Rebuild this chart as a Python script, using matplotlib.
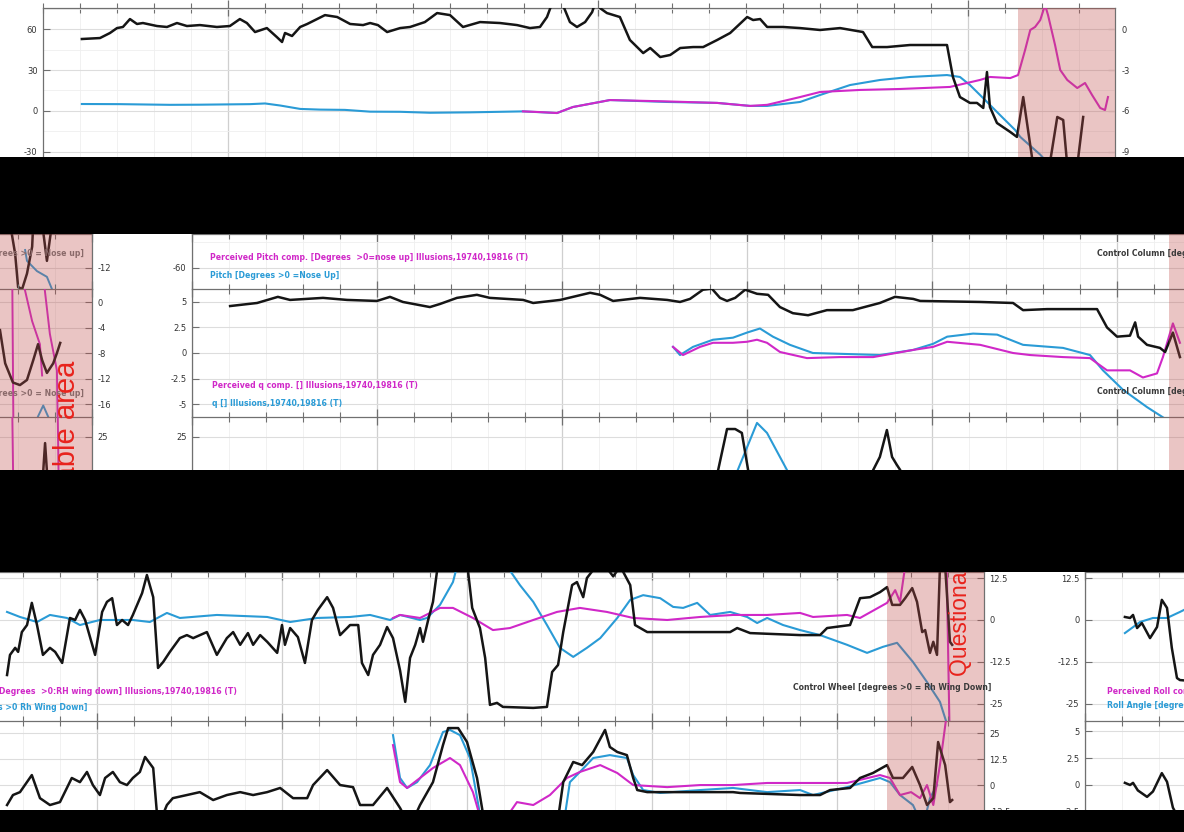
import numpy as np
import matplotlib.pyplot as plt
from matplotlib.patches import Rectangle
from matplotlib.ticker import MultipleLocator, FuncFormatter

W, H = 1184, 832
plt.rcParams['font.family'] = ['DejaVu Sans']

BLACK = '#151515'
BLUE = '#2a9bd6'
MAGENTA = '#d028c8'
GREY_TXT = '#3a3a3a'
SHADE = '#c0504d'
RED = '#e8231c'

# ---- top strip: heading / pitch overview (time in s, value in deg) ----
a_black = [(1.05, 52.7), (1.54, 53.4), (1.81, 57.1), (2.00, 60.7), (2.16, 61.5), (2.35, 67.3),
           (2.54, 63.7), (2.70, 64.4), (3.08, 62.2), (3.35, 61.5), (3.62, 64.4), (3.89, 62.2),
           (4.24, 62.9), (4.70, 61.5), (5.05, 62.2), (5.32, 67.3), (5.51, 64.4), (5.73, 57.8),
           (6.05, 60.7), (6.32, 54.1), (6.46, 50.5), (6.54, 57.1), (6.73, 54.9), (6.95, 61.5),
           (7.14, 63.7), (7.62, 70.2), (7.95, 68.8), (8.30, 63.7), (8.65, 62.9), (8.84, 64.4),
           (9.05, 62.9), (9.30, 57.8), (9.65, 60.7), (9.92, 61.5), (10.32, 65.1), (10.65, 71.7),
           (11.00, 70.2), (11.35, 61.5), (11.81, 65.1), (12.35, 64.4), (12.81, 62.9), (13.16, 60.7),
           (13.43, 61.5), (13.62, 68.8), (13.76, 79.0), (13.86, 90.0), (13.97, 85.0), (14.05, 77.6),
           (14.24, 65.1), (14.43, 61.5), (14.65, 65.1), (14.84, 72.4), (14.92, 79.0), (15.00, 82.0),
           (15.05, 75.4), (15.24, 71.7), (15.59, 68.8), (15.86, 52.0), (16.22, 42.4), (16.41, 46.1),
           (16.68, 39.5), (16.95, 41.0), (17.22, 46.1), (17.57, 46.8), (17.84, 46.8), (18.22, 52.0),
           (18.57, 57.1), (19.03, 68.8), (19.19, 66.6), (19.38, 67.3), (19.57, 61.5), (20.00, 61.5),
           (20.46, 60.7), (21.00, 59.3), (21.54, 60.7), (22.16, 57.8), (22.41, 46.8), (22.81, 46.8),
           (23.43, 48.3), (24.43, 48.3), (24.59, 24.9), (24.78, 10.2), (25.05, 5.9), (25.24, 5.9),
           (25.41, 2.2), (25.51, 28.5), (25.59, 2.9), (25.78, -8.8), (26.14, -15.4), (26.32, -19.0),
           (26.49, 10.2), (26.76, -40.0), (27.20, -40.0), (27.41, -4.4), (27.57, -6.6), (27.68, -40.0),
           (27.95, -40.0), (28.11, -4.4)]
a_blue = [(1.05, 5.1), (2.08, 5.0), (3.43, 4.5), (4.24, 4.6), (5.59, 5.0), (6.00, 5.5), (6.41, 4.0),
          (6.95, 1.5), (7.49, 1.0), (8.16, 0.8), (8.84, -0.5), (9.65, -0.6), (10.46, -1.3),
          (11.54, -1.0), (12.97, -0.3), (13.89, -1.5), (14.32, 2.9), (15.05, 6.6), (15.32, 8.0),
          (16.86, 6.6), (18.22, 5.9), (19.11, 3.7), (19.57, 3.7), (20.46, 6.6), (21.00, 11.7),
          (21.81, 19.0), (22.62, 22.7), (23.43, 24.9), (24.43, 26.3), (24.78, 24.9), (25.05, 19.0),
          (25.46, 8.0), (25.86, -2.9), (26.27, -13.9), (26.41, -19.0), (26.95, -32.0), (27.22, -40.0)]
a_magenta = [(12.97, -0.3), (13.43, -0.8), (13.89, -1.5), (14.32, 2.9), (15.05, 6.6), (15.32, 8.0),
             (16.86, 7.0), (18.22, 5.9), (19.11, 3.7), (19.57, 4.5), (20.46, 10.2), (21.00, 13.9),
             (22.08, 15.4), (23.16, 16.1), (24.51, 17.6), (25.32, 22.7), (25.59, 24.9), (26.14, 24.1),
             (26.35, 26.3), (26.54, 44.6), (26.68, 59.3), (26.81, 61.5), (26.95, 66.6), (27.08, 77.6),
             (27.16, 70.2), (27.35, 48.3), (27.49, 30.0), (27.68, 22.7), (27.95, 16.8), (28.16, 20.5),
             (28.35, 11.7), (28.57, 2.2), (28.70, 0.7), (28.78, 10.2)]

# ---- middle strip, left fragment (end of a control column panel) ----
b1_brown = [(-2.22, -5.0), (-2.08, -9.8), (-2.00, -15.0), (-1.89, -15.3), (-1.76, -12.9),
            (-1.62, -8.7), (-1.59, -5.0), (np.nan, np.nan), (-1.35, -5.0), (-1.22, -10.9), (-1.08, -5.0)]
b1_blue = [(-1.81, -9.2), (-1.76, -10.9), (-1.49, -12.5), (-1.22, -13.4), (-1.00, -16.5)]
b2_magenta = [(-2.16, 5.0), (-2.12, -25.0), (np.nan, np.nan),
              (-1.86, 3.0), (-1.62, -3.0), (-1.41, -6.6), (-1.35, -11.5), (np.nan, np.nan),
              (-1.30, 3.0), (-1.14, -5.0), (-0.95, -10.7), (-0.92, -22.0)]
b2_brown = [(-2.49, -4.4), (-2.35, -9.6), (-2.14, -12.6), (-1.95, -13.0), (-1.76, -12.2), (-1.59, -9.1),
            (-1.46, -6.6), (-1.35, -9.1), (-1.22, -11.1), (-1.05, -9.6), (-0.95, -8.0), (-0.86, -6.4)]
b2_blue = [(-1.46, -17.9), (-1.32, -16.2), (-1.19, -17.9)]
b3_magenta = [(-2.16, 40.0), (-2.13, 0.0), (np.nan, np.nan), (-0.93, 40.0), (-0.90, 0.0)]
b3_brown = [(-1.35, 0.0), (-1.27, 22.0), (-1.19, 0.0)]

# ---- middle strip, pitch / q panel ----
c2_black = [(1.03, 4.6), (1.76, 4.9), (2.32, 5.5), (2.65, 5.2), (3.54, 5.4), (4.19, 5.2), (5.00, 5.1),
            (5.35, 5.5), (5.70, 5.0), (6.43, 4.5), (6.70, 4.8), (7.16, 5.4), (7.70, 5.7), (8.05, 5.4),
            (8.95, 5.2), (9.22, 4.9), (9.95, 5.2), (10.76, 5.9), (11.03, 5.7), (11.38, 5.1), (12.11, 5.4),
            (12.84, 5.2), (13.19, 5.0), (13.46, 5.3), (13.81, 6.2), (14.05, 6.3), (14.27, 5.4), (14.46, 5.1),
            (14.68, 5.4), (14.95, 6.2), (15.27, 5.8), (15.57, 5.7), (15.89, 4.5), (16.24, 3.9), (16.65, 3.7),
            (17.16, 4.2), (17.86, 4.2), (18.59, 4.9), (19.00, 5.5), (19.49, 5.3), (19.68, 5.1), (21.30, 5.0),
            (22.19, 4.9), (22.46, 4.2), (23.11, 4.3), (24.46, 4.3), (24.73, 2.5), (25.00, 1.6), (25.35, 1.7),
            (25.49, 3.0), (25.57, 1.6), (25.81, 0.8), (26.16, 0.5), (26.30, 0.1), (26.51, 2.0), (26.70, -0.4)]
c2_blue = [(13.00, 0.6), (13.19, -0.2), (13.54, 0.6), (14.08, 1.3), (14.62, 1.5), (15.00, 2.0),
           (15.35, 2.4), (15.70, 1.6), (16.16, 0.8), (16.78, 0.0), (17.70, -0.1), (18.59, -0.2),
           (19.49, 0.3), (20.03, 0.9), (20.41, 1.6), (21.11, 1.9), (21.76, 1.8), (22.46, 0.8),
           (23.54, 0.5), (24.27, -0.2), (24.62, -1.7), (25.16, -3.6), (25.81, -5.3), (26.24, -6.3)]
c2_magenta = [(13.00, 0.6), (13.27, -0.2), (13.73, 0.6), (14.08, 1.0), (14.62, 1.0), (15.00, 1.1),
              (15.27, 1.3), (15.54, 1.0), (15.89, 0.1), (16.62, -0.5), (17.51, -0.4), (18.41, -0.4),
              (19.49, 0.3), (20.03, 0.6), (20.41, 1.1), (21.30, 0.8), (22.19, 0.0), (22.65, -0.2),
              (23.54, -0.4), (24.27, -0.5), (24.73, -1.7), (25.35, -1.7), (25.70, -2.4), (26.08, -2.0),
              (26.24, -0.4), (26.51, 2.9), (26.70, 1.0)]
c3_black = [(14.00, 0.0), (14.22, 8.8), (14.46, 28.9), (14.68, 28.9), (14.86, 27.0), (15.03, 8.8),
            (15.20, 0.0), (18.30, 0.0), (18.41, 8.8), (18.59, 15.2), (18.78, 28.4), (18.92, 15.2),
            (19.05, 11.3), (19.14, 8.8), (19.30, 0.0)]
c3_blue = [(14.60, 0.0), (14.75, 8.8), (15.27, 31.9), (15.54, 27.0), (16.08, 8.8), (16.30, 0.0)]

# ---- bottom strip: roll / control wheel panel ----
d1_black = [(2.57, -16.4), (2.65, -10.4), (2.79, -8.3), (2.87, -9.5), (2.97, -3.6), (3.11, -1.5),
            (3.24, 5.1), (3.38, -1.5), (3.54, -10.4), (3.73, -8.3), (3.87, -9.5), (4.06, -12.8),
            (4.27, 0.6), (4.41, 0.0), (4.54, 3.0), (4.68, 0.0), (4.95, -10.4), (5.14, 2.4), (5.27, 5.4),
            (5.41, 6.5), (5.54, -1.5), (5.68, 0.0), (5.84, -1.5), (5.97, 1.5), (6.22, 8.0), (6.35, 13.4),
            (6.52, 6.8), (6.65, -14.3), (6.79, -12.5), (6.97, -9.5), (7.24, -5.4), (7.43, -4.5),
            (7.60, -5.4), (7.97, -3.6), (8.24, -10.4), (8.51, -5.4), (8.68, -3.6), (8.87, -7.4),
            (9.08, -3.9), (9.22, -7.4), (9.41, -4.5), (9.60, -6.5), (9.87, -9.8), (10.00, -1.5),
            (10.08, -7.4), (10.22, -2.4), (10.43, -5.1), (10.62, -12.8), (10.81, 0.0), (10.97, 3.0),
            (11.22, 6.8), (11.38, 3.6), (11.57, -4.5), (11.84, -1.5), (12.06, -1.5), (12.16, -12.8),
            (12.33, -16.4), (12.46, -10.4), (12.65, -7.4), (12.84, -2.1), (13.00, -5.4), (13.19, -15.0),
            (13.33, -24.4), (13.46, -11.3), (13.60, -7.4), (13.73, -2.4), (13.81, -6.5), (13.95, 0.0),
            (14.08, 5.4), (14.19, 14.6), (14.27, 20.0), (14.95, 20.0), (15.03, 14.3), (15.14, 3.6),
            (15.35, -2.4), (15.49, -11.3), (15.62, -25.3), (15.81, -24.7), (15.97, -25.9), (16.79, -26.2),
            (17.16, -25.9), (17.30, -15.5), (17.46, -13.4), (17.60, -3.6), (17.84, 10.4), (17.97, 11.3),
            (18.14, 6.8), (18.24, 12.5), (18.38, 14.5), (18.60, 18.0), (18.95, 13.0), (19.14, 16.0),
            (19.41, 10.4), (19.54, -1.5), (19.87, -3.6), (20.41, -3.6), (22.11, -3.6), (22.30, -2.4),
            (22.65, -3.9), (24.00, -4.5), (24.54, -4.5), (24.73, -2.4), (25.35, -1.5), (25.62, 6.5),
            (25.89, 6.8), (26.16, 8.3), (26.35, 9.8), (26.49, 4.5), (26.70, 4.5), (26.84, 6.5),
            (27.03, 9.5), (27.16, 5.4), (27.30, -3.6), (27.38, -3.0), (27.51, -9.8), (27.60, -6.5),
            (27.70, -10.4), (27.78, 16.0), (27.92, 16.0), (28.05, -6.5), (28.11, -7.4)]
d1_blue = [(2.57, 2.4), (2.92, 0.9), (3.38, -0.6), (3.73, 1.5), (4.19, 0.6), (4.54, -1.5), (5.08, 0.0),
           (5.97, 0.0), (6.43, -0.6), (6.89, 2.1), (7.24, 0.6), (8.24, 1.5), (9.60, 0.9), (10.22, -0.6),
           (10.95, 0.6), (11.84, 0.9), (12.38, 1.5), (12.92, 0.0), (13.19, 1.5), (13.73, 0.0),
           (13.92, 0.6), (14.27, 4.5), (14.62, 11.3), (14.73, 16.0), (16.08, 16.0), (16.43, 10.4),
           (16.79, 5.4), (17.16, -1.5), (17.51, -8.3), (17.87, -11.0), (18.24, -8.3), (18.60, -5.4),
           (19.06, 0.6), (19.41, 6.0), (19.76, 7.4), (20.22, 6.5), (20.57, 3.9), (20.84, 3.6),
           (21.22, 5.1), (21.57, 1.5), (22.11, 2.4), (22.57, 0.9), (22.84, -0.9), (23.11, 0.6),
           (23.54, -1.5), (24.00, -3.0), (24.54, -4.5), (25.27, -7.4), (25.81, -9.8), (26.24, -8.0),
           (26.62, -6.8), (27.05, -12.5), (27.43, -18.5), (27.78, -24.4), (27.97, -31.0)]
d1_magenta = [(13.00, 0.6), (13.19, 1.5), (13.73, 0.6), (14.27, 3.6), (14.62, 3.6), (15.16, 0.6),
              (15.70, -3.0), (16.16, -2.4), (16.79, 0.0), (17.43, 2.4), (18.05, 3.6), (18.78, 2.4),
              (19.49, 0.6), (20.41, 0.0), (21.30, 0.9), (22.19, 1.5), (23.11, 1.5), (24.00, 2.1),
              (24.35, 0.9), (25.27, 1.5), (25.62, 0.6), (26.35, 5.1), (26.57, 8.9), (26.70, 5.4),
              (26.84, 16.0), (27.96, 16.0), (28.05, -40.0)]
d2_black = [(2.57, -9.6), (2.73, -4.8), (2.92, -3.4), (3.24, 4.8), (3.46, -6.3), (3.73, -9.6),
            (4.00, -8.2), (4.32, 3.4), (4.54, 1.4), (4.73, 6.3), (4.89, 0.0), (5.08, -4.8), (5.22, 3.4),
            (5.43, 6.3), (5.62, 1.4), (5.81, 0.0), (5.97, 3.4), (6.16, 6.3), (6.30, 13.5), (6.52, 8.2),
            (6.65, -20.0), (6.89, -9.6), (7.05, -6.3), (7.43, -4.8), (7.78, -3.4), (8.14, -7.2),
            (8.51, -4.8), (8.87, -3.4), (9.22, -4.8), (9.60, -3.4), (9.95, -1.4), (10.30, -6.3),
            (10.68, -6.3), (10.84, 0.0), (11.22, 7.2), (11.57, 0.0), (11.92, -1.0), (12.11, -9.6),
            (12.46, -9.6), (12.84, -1.4), (13.19, -11.0), (13.46, -20.0), (13.73, -9.6), (14.08, 1.4),
            (14.35, 19.2), (14.49, 27.4), (14.76, 27.4), (15.00, 20.7), (15.27, 3.4), (15.49, -20.0),
            (17.43, -20.0), (17.60, 1.4), (17.87, 11.1), (18.11, 9.6), (18.41, 15.9), (18.73, 26.5),
            (18.86, 18.3), (19.06, 15.9), (19.32, 14.4), (19.49, 3.4), (19.60, -2.4), (19.87, -3.4),
            (22.19, -3.4), (22.38, -3.8), (24.00, -4.8), (24.54, -4.8), (24.81, -2.4), (25.35, -1.4),
            (25.62, 3.4), (25.97, 5.8), (26.35, 9.6), (26.51, 3.4), (26.78, 3.4), (27.03, 8.7),
            (27.24, 0.0), (27.43, -9.6), (27.60, -6.3), (27.73, 20.7), (27.92, 9.6), (28.05, -8.2),
            (28.11, -7.2)]
d2_blue = [(13.00, 24.0), (13.19, 3.4), (13.38, -1.4), (13.65, 1.4), (14.00, 9.6), (14.35, 25.5),
           (14.54, 26.5), (14.81, 24.0), (15.08, 13.0), (15.41, -20.0), (17.60, -20.0), (17.78, 1.4),
           (18.05, 6.3), (18.41, 13.0), (18.86, 14.4), (19.32, 13.0), (19.49, 4.8), (19.76, -2.4),
           (20.22, -3.8), (21.30, -2.4), (22.19, -1.4), (23.11, -3.4), (24.00, -2.4), (24.35, -4.8),
           (25.27, -1.0), (26.16, 3.4), (26.43, 1.4), (26.70, -4.8), (27.05, -9.6), (27.32, -20.0),
           (27.51, -6.3), (27.70, 0.0)]
d2_magenta = [(13.00, 19.2), (13.19, 1.4), (13.38, -1.4), (13.73, 3.4), (14.08, 8.2), (14.54, 13.0),
              (14.81, 9.6), (15.16, -3.4), (15.43, -20.0), (15.89, -20.0), (16.35, -8.2), (16.79, -9.6),
              (17.24, -4.8), (17.70, 3.4), (18.05, 6.3), (18.60, 9.6), (19.06, 5.8), (19.49, 0.0),
              (20.41, -1.0), (21.30, 0.0), (22.19, 0.0), (23.11, 1.0), (24.00, 1.0), (25.27, 1.0),
              (26.16, 4.8), (26.43, 3.4), (26.70, -4.8), (27.00, -3.4), (27.24, -6.3), (27.43, 0.0),
              (27.60, -9.6), (27.78, 9.6), (27.97, 35.0)]
e1_black = [(1.08, 0.9), (1.22, 0.6), (1.30, 1.5), (1.41, -2.4), (1.54, -0.9), (1.76, -5.4),
            (1.95, -2.1), (2.08, 6.0), (2.22, 3.6), (2.35, -8.3), (2.49, -17.3), (2.57, -17.9), (2.68, -18.0)]
e1_blue = [(1.08, -3.9), (1.49, -0.6), (1.84, 0.6), (2.22, 0.6), (2.57, 2.4), (2.68, 3.0)]
e2_black = [(1.08, 0.2), (1.22, 0.0), (1.30, 0.2), (1.43, -0.5), (1.68, -1.1), (1.84, -0.6),
            (2.08, 1.1), (2.22, 0.3), (2.38, -2.1), (2.49, -2.8)]

BARS = [(157, 234), (470, 572), (810, 832)]

fig = plt.figure(figsize=(W / 100, H / 100), dpi=100)
fig.patch.set_facecolor('white')


def box(l, t, r, b, z=1):
    return fig.add_axes([l / W, 1 - b / H, (r - l) / W, (b - t) / H], zorder=z)


def fmt(v, pos):
    return '%g' % v


def style(ax, xlim, ylim, yticks, side, yminor=None, xmajor=5, xoff=0):
    ax.set_xlim(*xlim)
    ax.set_ylim(*ylim)
    for s in ax.spines.values():
        s.set_visible(False)
    for s in ('top', side):
        ax.spines[s].set_visible(True)
        ax.spines[s].set_color('#707070')
        ax.spines[s].set_linewidth(0.9)
    ax.xaxis.set_major_locator(MultipleLocator(xmajor, offset=xoff))
    ax.xaxis.set_minor_locator(MultipleLocator(1))
    ax.tick_params(axis='x', which='both', top=True, bottom=False, labeltop=False,
                   labelbottom=False, direction='inout', color='#707070')
    ax.tick_params(axis='x', which='major', length=11, width=0.9)
    ax.tick_params(axis='x', which='minor', length=7, width=0.8)
    ax.set_yticks(yticks)
    if yminor:
        ax.yaxis.set_minor_locator(MultipleLocator(yminor))
    else:
        ax.set_yticks([], minor=True)
    ax.yaxis.set_major_formatter(FuncFormatter(fmt))
    if side == 'right':
        ax.yaxis.tick_right()
    ax.tick_params(axis='y', which='major', direction='in', length=5, width=0.8,
                   color='#707070', labelsize=6, labelcolor='#333333', pad=4)
    ax.tick_params(axis='y', which='minor', length=0)
    ax.grid(which='major', axis='x', color='#cfcfcf', lw=0.9)
    ax.grid(which='minor', axis='x', color='#efefef', lw=0.6)
    ax.grid(which='major', axis='y', color='#dddddd', lw=0.8)
    ax.grid(which='minor', axis='y', color='#efefef', lw=0.6)
    ax.set_axisbelow(True)
    ax.patch.set_alpha(0)


def line(ax, data, color, lw=1.4):
    arr = np.array(data, dtype=float)
    ax.plot(arr[:, 0], arr[:, 1], color=color, lw=lw, solid_joinstyle='round', zorder=3)


def shade(ax, t0, t1):
    ax.axvspan(t0, t1, color=SHADE, alpha=0.33, lw=0, zorder=6)


def pixel_layer(l, t, r, b, z):
    ax = box(l, t, r, b, z=z)
    ax.set_xlim(l, r)
    ax.set_ylim(b, t)
    ax.axis('off')
    return ax


# top strip
axA = box(43, 8, 1115, 157)
style(axA, (0, 28.97), (-33.7, 75.4), [-30, 0, 30, 60], 'left', yminor=15, xmajor=10, xoff=5)
axA.spines['right'].set_visible(True)
axA.spines['right'].set_color('#707070')
line(axA, a_blue, BLUE, 1.5)
line(axA, a_magenta, MAGENTA, 1.5)
line(axA, a_black, BLACK, 1.8)
shade(axA, 26.35, 28.97)
secA = axA.secondary_yaxis('right', functions=(lambda v: (v - 60) / 10, lambda r: r * 10 + 60))
secA.set_yticks([0, -3, -6, -9])
secA.yaxis.set_major_formatter(FuncFormatter(fmt))
secA.tick_params(direction='in', length=5, width=0.8, color='#707070', labelsize=6,
                 labelcolor='#333333', pad=5)
secA.spines['right'].set_color('#707070')

# middle strip, left fragment
b_xlim = (-2.49, 0)
axB1 = box(0, 234, 92, 289)
style(axB1, b_xlim, (-15.3, -6.7), [-12], 'right')
line(axB1, b1_blue, BLUE, 1.4)
line(axB1, b1_brown, BLACK, 1.8)
shade(axB1, *b_xlim)
axB2 = box(0, 289, 92, 417)
style(axB2, b_xlim, (-18.0, 2.04), [-16, -12, -8, -4, 0], 'right')
line(axB2, b2_magenta, MAGENTA, 1.4)
line(axB2, b2_blue, BLUE, 1.4)
line(axB2, b2_brown, BLACK, 1.8)
shade(axB2, *b_xlim)
axB3 = box(0, 417, 92, 480)
style(axB3, b_xlim, (3.9, 34.8), [25], 'right')
line(axB3, b3_magenta, MAGENTA, 1.4)
line(axB3, b3_brown, BLACK, 1.8)
shade(axB3, *b_xlim)

# middle strip, pitch / q panel
c_xlim = (0, 26.81)
axC1 = box(192, 234, 1184, 289)
style(axC1, c_xlim, (-85.3, -20.3), [-60], 'left', yminor=30)
shade(axC1, 26.41, 26.81)
axC2 = box(192, 289, 1184, 417)
style(axC2, c_xlim, (-6.27, 6.27), [-5, -2.5, 0, 2.5, 5], 'left')
line(axC2, c2_blue, BLUE, 1.5)
line(axC2, c2_magenta, MAGENTA, 1.5)
line(axC2, c2_black, BLACK, 1.8)
shade(axC2, 26.41, 26.81)
axC3 = box(192, 417, 1184, 480)
style(axC3, c_xlim, (3.9, 34.8), [25], 'left')
line(axC3, c3_blue, BLUE, 1.5)
line(axC3, c3_black, BLACK, 1.8)
shade(axC3, 26.41, 26.81)

# bottom strip, roll panel
d_xlim = (2.38, 28.97)
axD1 = box(0, 572, 984, 721)
style(axD1, d_xlim, (-30.1, 14.3), [-25, -12.5, 0, 12.5], 'right')
line(axD1, d1_blue, BLUE, 1.5)
line(axD1, d1_magenta, MAGENTA, 1.5)
line(axD1, d1_black, BLACK, 1.8)
shade(axD1, 26.35, 28.97)
axD2 = box(0, 721, 984, 815)
style(axD2, d_xlim, (-14.4, 30.8), [-12.5, 0, 12.5, 25], 'right')
line(axD2, d2_blue, BLUE, 1.5)
line(axD2, d2_magenta, MAGENTA, 1.5)
line(axD2, d2_black, BLACK, 1.8)
shade(axD2, 26.35, 28.97)

# bottom strip, right fragment
e_xlim = (0, 2.68)
axE1 = box(1085, 572, 1184, 721)
style(axE1, e_xlim, (-30.1, 14.3), [-25, -12.5, 0, 12.5], 'left')
line(axE1, e1_blue, BLUE, 1.5)
line(axE1, e1_black, BLACK, 1.8)
axE2 = box(1085, 721, 1184, 815)
style(axE2, e_xlim, (-2.78, 5.93), [-2.5, 0, 2.5, 5], 'left')
line(axE2, e2_black, BLACK, 1.8)

# labels layer (pixel coordinates), beneath the black cut bars
lab = pixel_layer(0, 0, W, H, 40)
kw = dict(fontsize=5.6, va='center', fontweight='bold')
pitch_p = 'Perceived Pitch comp. [Degrees  >0=nose up] Illusions,19740,19816 (T)'
q_p = 'Perceived q comp. [] Illusions,19740,19816 (T)'
roll_p = 'Perceived Roll comp. [Degrees  >0:RH wing down] Illusions,19740,19816 (T)'
cc = 'Control Column [degrees >0 = Nose up]'
lab.text(210, 258, pitch_p, color=MAGENTA, **kw)
lab.text(210, 275, 'Pitch [Degrees >0 =Nose Up]', color=BLUE, **kw)
lab.text(1097, 253, cc, color=GREY_TXT, **kw)
lab.text(212, 385, q_p, color=MAGENTA, **kw)
lab.text(212, 404, 'q [] Illusions,19740,19816 (T)', color=BLUE, **kw)
lab.text(1097, 392, cc, color=GREY_TXT, **kw)
lab.text(84, 254, cc, color='#8a6a6a', ha='right', **kw)
lab.text(84, 393, cc, color='#8a6a6a', ha='right', **kw)
lab.text(237, 692, roll_p, color=MAGENTA, ha='right', **kw)
lab.text(87, 707, 'Roll Angle [Degrees >0 Rh Wing Down]', color=BLUE, ha='right', **kw)
lab.text(793, 687, 'Control Wheel [degrees >0 = Rh Wing Down]', color=GREY_TXT, **kw)
lab.text(1107, 691, roll_p, color=MAGENTA, **kw)
lab.text(1107, 706, 'Roll Angle [degrees >0 Rh Wing Down]', color=BLUE, **kw)

# red notes, each kept inside its shaded fragment
red_kw = dict(color=RED, rotation=90, ha='center', clip_on=True,
              family=['Liberation Sans', 'DejaVu Sans'])
noteB = pixel_layer(0, 234, 92, 470, 41)
noteB.text(67, 361, 'Questionable area', fontsize=21, va='top', **red_kw)
noteD = pixel_layer(887, 572, 984, 810, 41)
noteD.text(961, 676, 'Questionable area', fontsize=16.5, va='bottom', **red_kw)

# black cut bars of the collage
cut = pixel_layer(0, 0, W, H, 50)
for top, bottom in BARS:
    cut.add_patch(Rectangle((0, top), W, bottom - top, color='black', lw=0))

fig.savefig('out.png', dpi=100)
